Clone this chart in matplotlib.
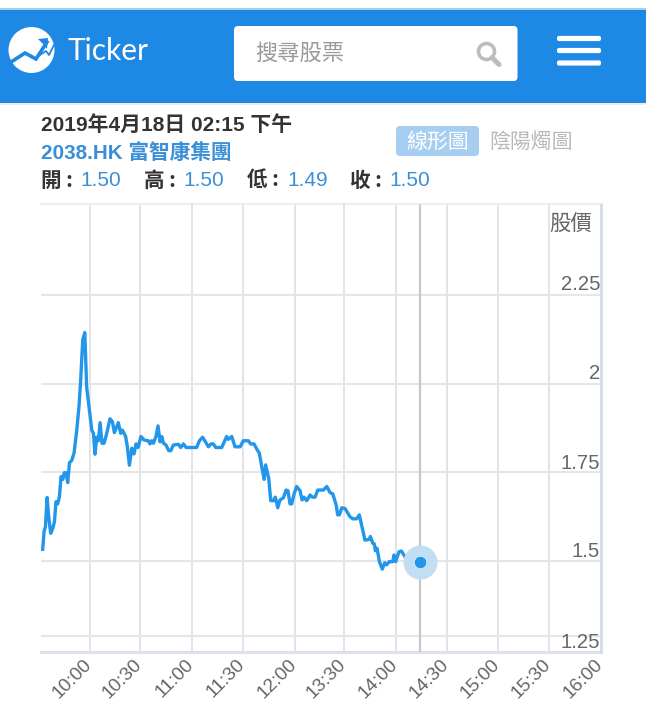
import matplotlib
matplotlib.use("Agg")
import matplotlib.pyplot as plt
from matplotlib.patches import Rectangle, FancyBboxPatch, Circle
from matplotlib.transforms import ScaledTranslation

# Trading minutes after 10:00 (lunch break removed)
minutes = [-27.8,-27.0,-26.2,-25.2,-24.3,-23.1,-21.9,-20.9,-20.0,-19.0,-18.0,-17.0,-16.0,-15.1,-14.1,-13.1,-12.1,-10.8,-9.4,-7.8,-6.5,-5.5,-4.3,-3.1,-2.0,-0.4,
           1.0,2.0,2.9,3.9,4.9,5.9,7.0,8.2,9.8,11.7,13.1,14.3,16.6,18.0,19.0,20.9,21.9,23.1,24.5,25.8,27.0,28.2,29.9,31.7,34.2,35.2,36.2,37.2,38.7,39.9,41.1,42.1,43.1,44.6,46.2,47.4,48.9,51.9,53.2,54.8,56.4,62.6,64.2,66.1,69.5,71.0,72.4,73.8,77.3,80.2,81.2,83.2,85.1,88.1,90.0,93.0,94.3,96.3,98.2,99.4,
           100.8,102.2,103.1,104.9,106.1,107.6,108.8,110.2,111.5,113.5,115.1,116.2,117.4,118.4,119.8,121.3,123.3,124.5,125.6,127.2,129.2,130.5,132.1,133.7,137.0,139.0,140.9,142.5,144.5,145.4,146.4,147.8,149.7,152.6,154.2,156.6,158.1,161.4,164.0,164.6,166.0,166.9,167.5,168.5,169.9,171.6,173.0,174.1,175.7,177.7,178.5,179.4,181.4,182.8,184.3,186.3,188.5]
prices = [1.533,1.583,1.597,1.679,1.625,1.578,1.592,1.611,1.667,1.661,1.681,1.738,1.730,1.749,1.749,1.721,1.777,1.783,1.804,1.869,1.935,2.010,2.123,2.144,1.991,1.926,
          1.869,1.860,1.801,1.849,1.839,1.890,1.832,1.832,1.860,1.901,1.893,1.862,1.890,1.860,1.869,1.851,1.822,1.770,1.818,1.802,1.830,1.820,1.851,1.841,1.839,1.830,1.839,1.832,1.851,1.881,1.836,1.851,1.832,1.827,1.811,1.811,1.827,1.829,1.820,1.830,1.820,1.820,1.839,1.849,1.822,1.830,1.830,1.820,1.820,1.851,1.843,1.851,1.822,1.822,1.839,1.839,1.830,1.830,1.813,1.804,
          1.766,1.730,1.771,1.733,1.670,1.670,1.680,1.650,1.672,1.678,1.700,1.698,1.661,1.661,1.689,1.710,1.698,1.672,1.680,1.670,1.686,1.680,1.680,1.700,1.700,1.710,1.693,1.689,1.658,1.630,1.630,1.650,1.648,1.625,1.619,1.619,1.630,1.559,1.561,1.569,1.550,1.548,1.529,1.536,1.498,1.477,1.495,1.489,1.498,1.498,1.517,1.498,1.526,1.528,1.517,1.500,1.517]
last_minute = 193.7
last_price = 1.498
x_ticks = [0,29.4,60,90,120.5,149,179.5,209.5,239.5,269.5,300]
x_labels = ["10:00","10:30","11:00","11:30","12:00","13:30","14:00","14:30","15:00","15:30","16:00"]
y_ticks = [1.2886,1.5,1.75,2.0,2.25]
y_labels = ["1.25","1.5","1.75","2","2.25"]

BLUE = "#1E88E5"; LINE = "#2196EA"; TXT_BLUE = "#3A8FD6"; DARK = "#333333"
LATIN_CJK = ["Liberation Sans", "Noto Sans CJK TC"]
CJK = ["Noto Sans CJK TC", "Liberation Sans"]

fig = plt.figure(figsize=(6.46, 7.04), dpi=100, facecolor="white")

# page chrome in pixel coordinates
bg = fig.add_axes([0, 0, 1, 1])
bg.set_xlim(0, 646); bg.set_ylim(704, 0); bg.axis("off")
bg.add_patch(Rectangle((0, 10), 646, 92.5, color=BLUE, lw=0))
bg.add_patch(Rectangle((0, 7.5), 646, 2.5, color="#A9CDEE", lw=0))
bg.add_patch(Rectangle((0, 102.5), 646, 2, color="#E8EEF4", lw=0))
bg.add_patch(Circle((31.5, 50), 23, color="white", lw=0))
bg.plot([8, 25, 36, 47], [64, 53, 59, 42], color=BLUE, lw=2.6, solid_joinstyle="miter")
bg.fill([38, 48, 47, 44], [39, 38, 49, 45], color=BLUE, lw=0)
bg.plot([40, 46, 49, 54], [55, 51, 55, 45], color=BLUE, lw=1.3)
bg.text(67, 50.5, "Ticker", color="white", fontsize=21.5, family=["Lato", "Liberation Sans"],
        fontweight="normal", ha="left", va="center")
bg.add_patch(FancyBboxPatch((234, 26), 283.5, 55, boxstyle="round,pad=0,rounding_size=4", lw=0, color="white"))
bg.text(255, 53, "搜尋股票", color="#9A9A9A", fontsize=16, family=CJK, ha="left", va="center")
bg.add_patch(Circle((486.5, 51.5), 8, fill=False, ec="#BDBDBD", lw=2.6))
bg.plot([492, 499], [57.5, 64.5], color="#BDBDBD", lw=3.6, solid_capstyle="round")
for y0 in (38.5, 50.5, 63):
    bg.add_patch(FancyBboxPatch((557, y0 - 2.6), 44, 5.2, boxstyle="round,pad=0,rounding_size=2", lw=0, color="white"))

bg.text(41, 125, "2019年4月18日 02:15 下午", color=DARK, fontsize=15, fontweight="bold", family=LATIN_CJK, ha="left", va="center")
bg.text(41, 153, "2038.HK 富智康集團", color=TXT_BLUE, fontsize=14.9, fontweight="bold", family=LATIN_CJK, ha="left", va="center")
for xk, xv, key, val in [(41, 80, "開", "1.50"), (144, 183, "高", "1.50"), (247, 287, "低", "1.49"), (350, 389, "收", "1.50")]:
    bg.text(xk, 180, key + " :", color=DARK, fontsize=14.8, fontweight="bold", family=CJK, ha="left", va="center")
    bg.text(xv, 180, val, color=TXT_BLUE, fontsize=15, family="Liberation Sans", ha="left", va="center")
bg.add_patch(FancyBboxPatch((396, 126), 83, 30, boxstyle="round,pad=0,rounding_size=4", lw=0, color="#A5CEF1"))
bg.text(437.5, 141.5, "線形圖", color="white", fontsize=15, fontweight="medium", family=CJK, ha="center", va="center")
bg.text(531, 141.5, "陰陽燭圖", color="#B8B8B8", fontsize=15, fontweight="medium", family=CJK, ha="center", va="center")

# chart
ax = fig.add_axes([41/646, 52/704, 560/646, 448/704])
ax.patch.set_alpha(0)
ax.set_xlim(-28.8, 300)
ax.set_ylim(1.2434, 2.5065)
for s in ("left", "bottom"):
    ax.spines[s].set_visible(False)
ax.spines["top"].set_color("#EAEAEA"); ax.spines["top"].set_linewidth(1.2)
ax.spines["right"].set_color("#D3DCE9"); ax.spines["right"].set_linewidth(2)
ax.axhline(1.2434, color="#DDE1EA", lw=2.2, clip_on=False, zorder=1)

ax.set_xticks(x_ticks)
ax.set_xticklabels(x_labels, rotation=45, ha="right", rotation_mode="anchor", fontsize=13.8,
                   color="#666666", family="Liberation Sans")
ax.yaxis.tick_right()
ax.set_yticks(y_ticks)
ax.set_yticklabels(y_labels, fontsize=14.6, color="#666666", family="Liberation Sans", ha="right")
ax.tick_params(axis="x", length=0, pad=5)
ax.tick_params(axis="y", length=0, pad=0)
ax.grid(True, axis="x", color="#E2E4EA", lw=1.4)
ax.grid(True, axis="y", color="#E6E6E8", lw=1.5)
ax.set_axisbelow(True)

offsets = {"1.25": -5, "1.5": 11, "1.75": 11, "2": 12, "2.25": 12}
for lab in ax.get_yticklabels():
    dy = offsets[lab.get_text()]
    lab.set_transform(lab.get_transform() + ScaledTranslation(-1/100, dy/100, fig.dpi_scale_trans))
for lab in ax.get_xticklabels():
    lab.set_transform(lab.get_transform() + ScaledTranslation(-7/100, 3/100, fig.dpi_scale_trans))

ax.axvline(last_minute, color="#C6C8CC", lw=1.6, zorder=2)
ax.plot(minutes, prices, color=LINE, lw=2.4, solid_joinstyle="round", zorder=3)
ax.scatter([last_minute], [last_price], s=600, color="#C2DEF5", lw=0, zorder=4)
ax.scatter([last_minute], [last_price], s=80, color=LINE, edgecolor="#EAF4FC", lw=0.5, zorder=5)
ax.text(0.945, 0.953, "股價", transform=ax.transAxes, color="#666666", fontsize=15.4, family=CJK, ha="center", va="center")

fig.savefig("out.png", dpi=100)
